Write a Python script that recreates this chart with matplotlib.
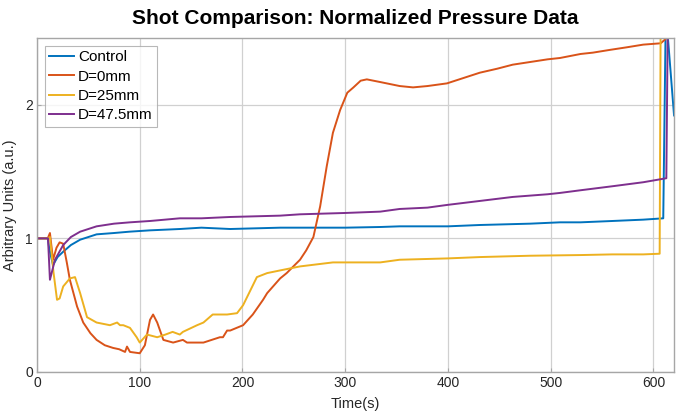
import matplotlib.pyplot as plt

plt.rcParams['font.family'] = ['Liberation Sans', 'DejaVu Sans']

# ---------------- DATA ----------------
control_t = [0, 5, 10.5, 12, 15.6, 20, 25.5, 33, 42, 50, 58, 75, 90, 110, 139, 160, 188,
             237, 256, 300, 334, 353, 400, 431, 480, 509, 529, 560, 590, 609.5, 612, 620]
control_p = [1.0, 1.0, 1.0, 0.92, 0.80, 0.86, 0.90, 0.95, 0.99, 1.01, 1.03, 1.04, 1.05, 1.06,
             1.07, 1.08, 1.07, 1.08, 1.08, 1.08, 1.085, 1.09, 1.09, 1.10, 1.11, 1.12, 1.12,
             1.13, 1.14, 1.15, 2.7, 1.92]

d0_t = [0, 5, 10.5, 12.6, 15.6, 19, 22, 25.5, 29, 32, 39, 45, 52, 58, 66, 74, 80, 85.7, 87.6,
        90.5, 100, 105, 110, 113, 117, 123, 132.5, 142, 146, 158.7, 162, 170, 178, 181, 185,
        188, 200.6, 210, 220, 224, 236.6, 243, 256, 262, 269, 275.6, 282, 288, 295, 302, 308,
        315, 321, 334, 353, 366, 380, 399, 415, 431, 448, 463, 480, 497, 509, 529, 541, 557,
        574, 590, 607, 611.5, 614]
d0_p = [1.0, 1.0, 1.0, 1.04, 0.84, 0.93, 0.97, 0.96, 0.82, 0.69, 0.49, 0.37, 0.29, 0.24, 0.20,
        0.18, 0.17, 0.15, 0.19, 0.15, 0.14, 0.20, 0.39, 0.43, 0.37, 0.24, 0.22, 0.24, 0.22,
        0.22, 0.22, 0.24, 0.26, 0.26, 0.31, 0.31, 0.35, 0.43, 0.54, 0.59, 0.70, 0.74, 0.84,
        0.91, 1.01, 1.24, 1.54, 1.79, 1.96, 2.09, 2.13, 2.18, 2.19, 2.17, 2.14, 2.13, 2.14,
        2.16, 2.20, 2.24, 2.27, 2.30, 2.32, 2.34, 2.35, 2.38, 2.39, 2.41, 2.43, 2.45, 2.46,
        2.49, 2.7]

d25_t = [0, 5, 10.5, 12.6, 16, 19.5, 22, 25.5, 32, 37, 42, 48.7, 58, 71, 78, 80.8, 84, 90.5,
         97, 100, 107, 117, 125, 132, 139, 142, 155.8, 162, 171, 175, 185, 194.7, 200.6, 207,
         214, 224, 236.6, 256, 288, 334, 353, 400, 431, 480, 529, 560, 590, 606, 607]
d25_p = [1.0, 1.0, 1.0, 1.01, 0.75, 0.54, 0.55, 0.64, 0.70, 0.71, 0.59, 0.41, 0.37, 0.35, 0.37,
         0.35, 0.35, 0.33, 0.26, 0.22, 0.28, 0.26, 0.28, 0.30, 0.28, 0.30, 0.35, 0.37, 0.43,
         0.43, 0.43, 0.44, 0.50, 0.60, 0.71, 0.74, 0.76, 0.79, 0.82, 0.82, 0.84, 0.85, 0.86,
         0.87, 0.875, 0.88, 0.88, 0.885, 2.7]

d475_t = [0, 5, 10.7, 12.6, 17.5, 25.5, 33, 42, 50, 58, 75, 90.5, 110, 139, 160, 188, 236.6,
          256, 300, 334, 353, 380, 399, 431, 463, 497, 509, 529, 560, 590, 612.5, 614]
d475_p = [1.0, 1.0, 1.0, 0.69, 0.84, 0.95, 1.01, 1.05, 1.07, 1.09, 1.11, 1.12, 1.13, 1.15, 1.15,
          1.16, 1.17, 1.18, 1.19, 1.20, 1.22, 1.23, 1.25, 1.28, 1.31, 1.33, 1.34, 1.36, 1.39,
          1.42, 1.45, 2.7]

labels = ["Control", "D=0mm", "D=25mm", "D=47.5mm"]
colors = ["#0072BD", "#D95319", "#EDB120", "#7E2F8E"]

# ---------------- FIGURE ----------------
fig = plt.figure(figsize=(6.85, 4.17), dpi=100)
ax = fig.add_axes([0.054, 0.108, 0.930, 0.801])

series = [(control_t, control_p), (d0_t, d0_p), (d25_t, d25_p), (d475_t, d475_p)]
for (t, p), lab, col in zip(series, labels, colors):
    ax.plot(t, p, color=col, linewidth=1.4, label=lab)

ax.set_xlim(0, 620)
ax.set_ylim(0, 2.5)
ax.set_xticks([0, 100, 200, 300, 400, 500, 600])
ax.set_yticks([0, 1, 2])
ax.grid(True, color="#d0d0d0", linewidth=0.9)
ax.set_axisbelow(True)
for s in ax.spines.values():
    s.set_color("#a6a6a6")
    s.set_linewidth(1.0)
ax.tick_params(direction="in", length=3, color="#a6a6a6", labelsize=10,
               labelcolor="#262626", pad=3)

ax.set_title("Shot Comparison: Normalized Pressure Data", fontsize=15,
             fontweight="bold", color="black", pad=10)
ax.set_xlabel("Time(s)", fontsize=10.5, color="#262626", labelpad=5)
ax.set_ylabel("Arbitrary Units (a.u.)", fontsize=10.5, color="#262626", labelpad=6)

leg = ax.legend(loc="upper left", fontsize=11, frameon=True, fancybox=False,
                edgecolor="#a6a6a6", handlelength=1.6, handletextpad=0.3,
                borderpad=0.3, labelspacing=0.35, borderaxespad=0.5)
leg.get_frame().set_linewidth(0.8)

fig.savefig("out.png", dpi=100)
